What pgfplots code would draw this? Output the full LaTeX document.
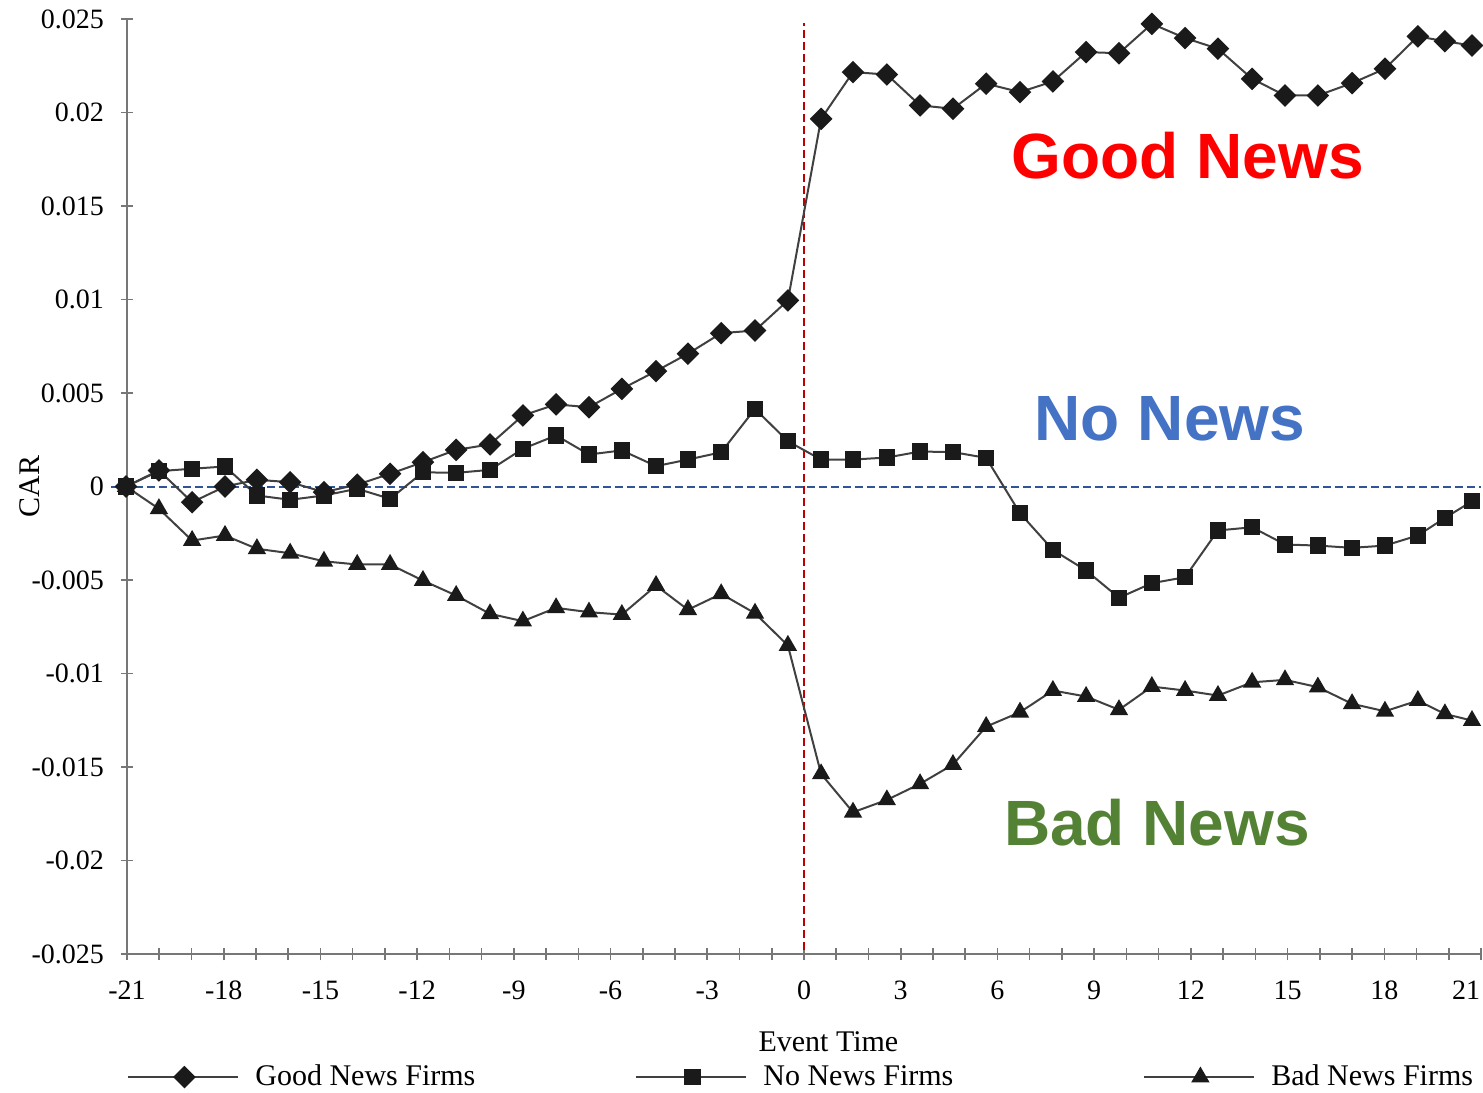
\documentclass[border=0pt]{standalone}
\usepackage{fontspec}
\setmainfont{Liberation Serif}
\newfontfamily\annofont{Liberation Sans}
\usepackage{pgfplots}
\usepackage{pgfplotstable}
\pgfplotsset{compat=1.18}

\definecolor{goodred}{HTML}{FF0000}
\definecolor{noblue}{HTML}{4472C4}
\definecolor{badgreen}{HTML}{548235}
\definecolor{zeroblue}{HTML}{2F5597}
\definecolor{evred}{HTML}{C00000}
\definecolor{linegray}{HTML}{404040}
\definecolor{markblk}{HTML}{1A1A1A}
\definecolor{axgray}{HTML}{777777}

% cumulative abnormal returns
\pgfplotstableread{
x      good     none     bad
-21.03 0.00000  0.00000  0.00000
-20.01 0.00086  0.00082 -0.00119
-18.98 -0.00084 0.00095 -0.00289
-17.96 0.00000  0.00107 -0.00262
-16.97 0.00036 -0.00048 -0.00333
-15.94 0.00023 -0.00071 -0.00357
-14.89 -0.00030 -0.00048 -0.00400
-13.86 0.00010 -0.00012 -0.00417
-12.84 0.00068 -0.00066 -0.00417
-11.82 0.00130  0.00076 -0.00503
-10.79 0.00196  0.00073 -0.00583
-9.74  0.00225  0.00089 -0.00681
-8.72  0.00380  0.00202 -0.00720
-7.69  0.00439  0.00273 -0.00649
-6.67  0.00424  0.00171 -0.00672
-5.65  0.00522  0.00193 -0.00685
-4.59  0.00617  0.00109 -0.00530
-3.60  0.00710  0.00144 -0.00659
-2.57  0.00820  0.00183 -0.00574
-1.52  0.00834  0.00415 -0.00678
-0.50  0.00995  0.00242 -0.00850
0.53   0.01966  0.00144 -0.01537
1.52   0.02216  0.00144 -0.01742
2.57   0.02203  0.00155 -0.01676
3.60   0.02038  0.00187 -0.01590
4.62   0.02020  0.00184 -0.01487
5.65   0.02154  0.00153 -0.01284
6.70   0.02109 -0.00143 -0.01207
7.72   0.02166 -0.00339 -0.01091
8.75   0.02323 -0.00449 -0.01123
9.77   0.02317 -0.00595 -0.01194
10.79  0.02474 -0.00517 -0.01070
11.82  0.02398 -0.00485 -0.01091
12.84  0.02341 -0.00235 -0.01118
13.90  0.02180 -0.00218 -0.01047
14.92  0.02091 -0.00310 -0.01034
15.94  0.02091 -0.00316 -0.01073
17.00  0.02157 -0.00328 -0.01162
18.02  0.02234 -0.00316 -0.01202
19.04  0.02407 -0.00262 -0.01145
19.88  0.02381 -0.00168 -0.01216
20.72  0.02358 -0.00079 -0.01252
}\cartable

\begin{document}
\begin{tikzpicture}
\begin{axis}[
    scale only axis,
    width=677pt, height=467.5pt,
    xmin=-21, xmax=21, ymin=-0.025, ymax=0.025,
    axis lines*=left,
    axis line style={draw=axgray, line width=1pt, -},
    clip=false,
    xtick={-21,-18,-15,-12,-9,-6,-3,0,3,6,9,12,15,18},
    xticklabels={-21,-18,-15,-12,-9,-6,-3,0,3,6,9,12,15,18},
    extra x ticks={21},
    extra x tick labels={21},
    extra x tick style={xticklabel style={xshift=-7.5pt}},
    minor xtick={-21,...,21},
    ytick={-0.025,-0.02,-0.015,-0.01,-0.005,0,0.005,0.01,0.015,0.02,0.025},
    yticklabels={-0.025,-0.02,-0.015,-0.01,-0.005,0,0.005,0.01,0.015,0.02,0.025},
    scaled y ticks=false,
    tick align=center,
    major tick length=6pt, minor tick length=6pt,
    every tick/.style={draw=axgray, line width=0.8pt},
    tick label style={font=\fontsize{14}{17}\selectfont},
    label style={font=\fontsize{15}{18}\selectfont},
    xticklabel style={yshift=-7pt},
    yticklabel style={xshift=-5pt},
    xlabel={Event Time},
    ylabel={CAR},
    xlabel style={at={(axis description cs:0.518,-0.094)}, anchor=center},
    ylabel style={at={(axis description cs:-0.0716,0.5)}, anchor=center},
    legend columns=3,
    legend style={at={(axis description cs:0,-0.1316)}, anchor=west,
        draw=none, fill=none, inner sep=0pt,
        font=\fontsize{15}{18}\selectfont,
        nodes={inner sep=0pt},
        /tikz/every odd column/.append style={column sep=8pt}},
    legend image code/.code={
        \draw[mark repeat=2, mark phase=2, #1]
            plot coordinates {(0pt,0pt) (28pt,0pt) (55pt,0pt)};},
]
\addplot[zeroblue, line width=1pt, dash pattern=on 4pt off 2pt, forget plot]
    coordinates {(-21.5,0) (21,0)};
\addplot[evred, line width=1pt, dash pattern=on 4pt off 2pt, forget plot]
    coordinates {(0,-0.0248) (0,0.0248)};

\addplot[linegray, line width=1pt, mark=square*, mark size=3.5pt,
    mark options={solid, rotate=45, fill=markblk, draw=markblk}]
    table[x=x, y=good] {\cartable};
\addlegendentry{\makebox[190pt][l]{Good News Firms}}

\addplot[linegray, line width=1pt, mark=square*, mark size=3.6pt,
    mark options={solid, fill=markblk, draw=markblk}]
    table[x=x, y=none] {\cartable};
\addlegendentry{\makebox[190pt][l]{No News Firms}}

\addplot[linegray, line width=1pt, mark=triangle*, mark size=4.3pt,
    mark options={solid, fill=markblk, draw=markblk}]
    table[x=x, y=bad] {\cartable};
\addlegendentry{Bad News Firms}

\node[font=\annofont\bfseries\fontsize{32}{38}\selectfont, text=goodred]
    at (axis cs:11.9,0.0177) {Good News};
\node[font=\annofont\bfseries\fontsize{32}{38}\selectfont, text=noblue]
    at (axis cs:11.35,0.00364) {No News};
\node[font=\annofont\bfseries\fontsize{32}{38}\selectfont, text=badgreen]
    at (axis cs:10.95,-0.01797) {Bad News};

\coordinate (sw) at (rel axis cs:0,0);
\coordinate (ne) at (rel axis cs:1,1);
\end{axis}
% page frame as in the reference
\path (sw) ++(-63.5pt,-69pt) coordinate (bbA);
\path (ne) ++(1pt,9.5pt) coordinate (bbB);
\pgfresetboundingbox
\path (bbA) rectangle (bbB);
\end{tikzpicture}
\end{document}
